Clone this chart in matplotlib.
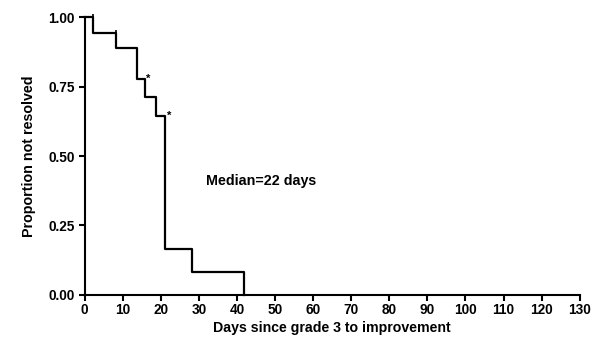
import matplotlib
matplotlib.use("Agg")
import matplotlib.pyplot as plt

# Kaplan-Meier step data
days = [0, 2.3, 8.3, 13.9, 15.8, 18.7, 21.1, 28.1, 41.8]
surv = [1.0, 0.944, 0.889, 0.778, 0.714, 0.643, 0.167, 0.083, 0.0]
censor_x = [2.3, 8.3]
censor_y = [1.0, 0.944]
star_x = [16.6, 22.3]
star_y = [0.778, 0.643]

plt.rcParams['font.family'] = ['Liberation Sans', 'DejaVu Sans']
plt.rcParams['font.weight'] = 'bold'

fig = plt.figure(figsize=(5.91, 3.41), dpi=100)
ax = fig.add_axes([0.143, 0.135, 0.838, 0.815])

ax.step(days, surv, where='post', color='black', lw=1.6, clip_on=False, zorder=3)
ax.plot(censor_x, censor_y, ls='none', marker='|', ms=4, mew=1.2, color='black', clip_on=False)
for x, y in zip(star_x, star_y):
    ax.text(x, y, '*', fontsize=8, ha='center', va='center', color='black')

ax.text(31.9, 0.41, 'Median=22 days', fontsize=10.3, fontweight='bold', va='center')

ax.set_xlim(0, 130)
ax.set_ylim(0, 1.0)
ax.set_xticks(range(0, 131, 10))
ax.set_yticks([0, 0.25, 0.5, 0.75, 1.0])
ax.set_yticklabels(['0.00', '0.25', '0.50', '0.75', '1.00'])
for s in ['top', 'right']:
    ax.spines[s].set_visible(False)
for s in ['left', 'bottom']:
    ax.spines[s].set_linewidth(1.5)
ax.tick_params(width=1.5, length=4, labelsize=9.8)
ax.tick_params(axis='x', pad=2)
ax.tick_params(axis='y', pad=3)
for lab in ax.get_xticklabels() + ax.get_yticklabels():
    lab.set_fontweight('bold')

ax.set_xlabel('Days since grade 3 to improvement', fontsize=10.2, fontweight='bold', labelpad=3)
ax.set_ylabel('Proportion not resolved', fontsize=10.3, fontweight='bold', labelpad=9)

fig.savefig('out.png', dpi=100)
